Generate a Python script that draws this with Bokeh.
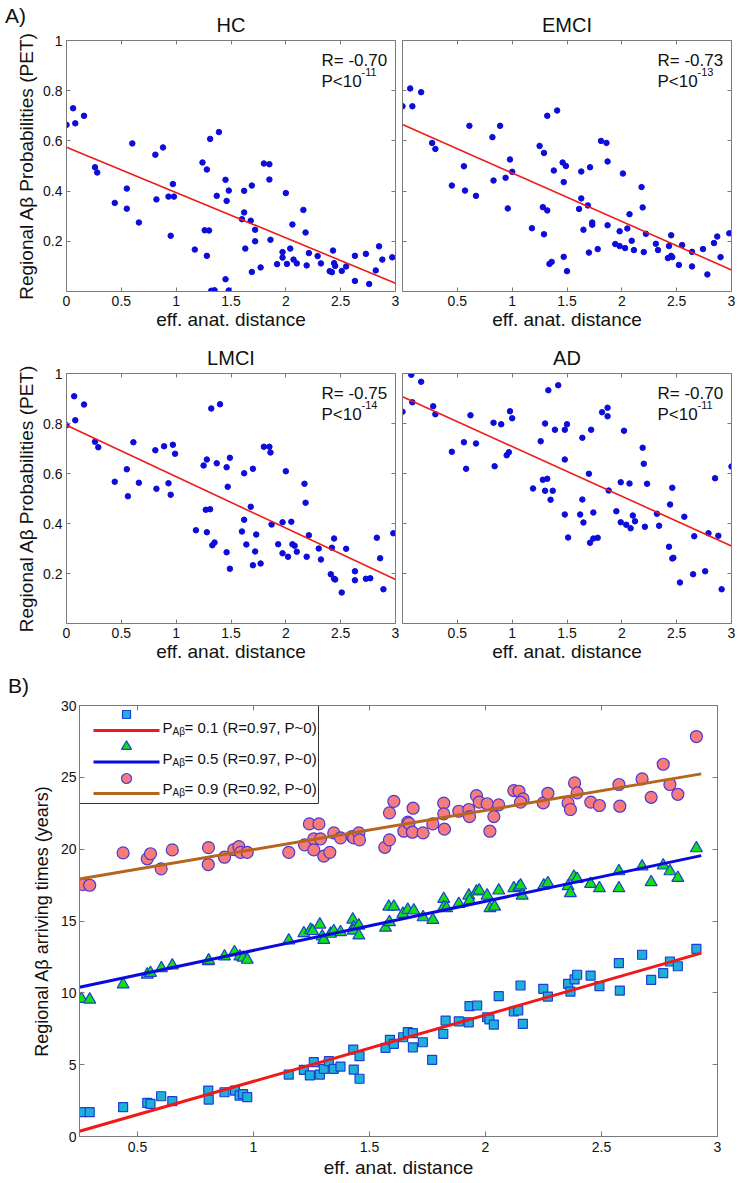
from bokeh.plotting import figure
from bokeh.models import Range1d, FixedTicker, LinearAxis, Label, Div
from bokeh.layouts import column, row
from bokeh.embed import file_html
from bokeh.resources import INLINE

FONT = "Liberation Sans"

# ---------------- Panel A data (eff. anat. distance, regional Abeta probability) ----
HC = [(0.00,0.664),(0.06,0.730),(0.08,0.670),(0.16,0.700),(0.26,0.495),(0.28,0.474),(0.44,0.353),
      (0.55,0.410),(0.55,0.330),(0.60,0.590),(0.66,0.275),(0.81,0.545),(0.82,0.367),(0.88,0.574),
      (0.93,0.378),(0.95,0.222),(0.97,0.428),(0.98,0.378),(1.17,0.167),(1.24,0.514),(1.26,0.244),
      (1.28,0.142),(1.28,0.486),(1.30,0.243),(1.31,0.608),(1.32,0.003),(1.35,0.005),(1.37,0.381),
      (1.39,0.635),(1.45,0.445),(1.46,0.361),(1.45,0.049),(1.48,0.004),(1.48,0.402),(1.60,0.288),
      (1.62,0.401),(1.62,0.315),(1.63,0.171),(1.68,0.282),(1.69,0.422),(1.69,0.078),(1.72,0.246),
      (1.72,0.200),(1.77,0.096),(1.80,0.510),(1.85,0.507),(1.85,0.446),(1.86,0.206),(1.92,0.109),
      (1.97,0.157),(1.97,0.135),(2.00,0.392),(2.01,0.110),(2.04,0.171),(2.06,0.267),(2.07,0.127),
      (2.10,0.112),(2.16,0.325),(2.18,0.235),(2.19,0.104),(2.21,0.153),(2.29,0.141),(2.32,0.112),
      (2.40,0.081),(2.42,0.077),(2.43,0.163),(2.44,0.113),(2.45,0.102),(2.51,0.082),(2.55,0.100),
      (2.63,0.142),(2.63,0.042),(2.73,0.150),(2.76,0.030),(2.82,0.084),(2.85,0.180),(2.88,0.127),
      (2.97,0.136)]
EMCI = [(0.00,0.738),(0.07,0.809),(0.09,0.738),(0.17,0.794),(0.27,0.592),(0.30,0.568),(0.45,0.422),
        (0.56,0.499),(0.57,0.402),(0.61,0.660),(0.67,0.381),(0.82,0.615),(0.83,0.442),(0.89,0.660),
        (0.94,0.453),(0.96,0.331),(0.98,0.526),(1.00,0.477),(1.18,0.252),(1.25,0.580),(1.28,0.336),
        (1.29,0.228),(1.29,0.552),(1.32,0.323),(1.32,0.700),(1.34,0.110),(1.36,0.118),(1.38,0.482),
        (1.41,0.721),(1.46,0.514),(1.47,0.436),(1.47,0.138),(1.49,0.500),(1.50,0.081),(1.61,0.329),
        (1.63,0.478),(1.63,0.371),(1.65,0.246),(1.69,0.343),(1.71,0.495),(1.70,0.155),(1.73,0.275),
        (1.73,0.266),(1.78,0.169),(1.81,0.600),(1.86,0.592),(1.87,0.518),(1.87,0.264),(1.94,0.189),
        (1.98,0.240),(1.98,0.181),(2.01,0.470),(2.03,0.173),(2.05,0.251),(2.07,0.308),(2.09,0.202),
        (2.11,0.165),(2.18,0.416),(2.19,0.335),(2.20,0.157),(2.22,0.230),(2.31,0.190),(2.33,0.165),
        (2.42,0.133),(2.43,0.181),(2.45,0.224),(2.45,0.142),(2.46,0.137),(2.52,0.106),(2.55,0.185),
        (2.64,0.158),(2.64,0.100),(2.74,0.169),(2.78,0.068),(2.84,0.193),(2.87,0.219),(2.90,0.137),
        (2.98,0.232)]
LMCI = [(0.00,0.793),(0.07,0.909),(0.08,0.813),(0.16,0.876),(0.26,0.727),(0.29,0.705),(0.44,0.567),
        (0.55,0.617),(0.56,0.509),(0.61,0.725),(0.66,0.563),(0.81,0.693),(0.82,0.539),(0.89,0.709),
        (0.93,0.561),(0.95,0.515),(0.97,0.715),(0.99,0.679),(1.18,0.373),(1.25,0.632),(1.27,0.455),
        (1.28,0.365),(1.28,0.656),(1.31,0.457),(1.32,0.860),(1.33,0.313),(1.35,0.324),(1.37,0.641),
        (1.40,0.877),(1.46,0.625),(1.47,0.547),(1.46,0.285),(1.49,0.219),(1.49,0.663),(1.60,0.368),
        (1.62,0.601),(1.62,0.415),(1.64,0.316),(1.68,0.467),(1.70,0.619),(1.70,0.233),(1.72,0.288),
        (1.73,0.356),(1.77,0.240),(1.80,0.707),(1.85,0.707),(1.86,0.684),(1.87,0.396),(1.93,0.317),
        (1.97,0.405),(1.97,0.281),(2.00,0.609),(2.02,0.267),(2.05,0.407),(2.06,0.317),(2.08,0.311),
        (2.10,0.287),(2.17,0.559),(2.18,0.483),(2.19,0.267),(2.21,0.353),(2.30,0.300),(2.32,0.256),
        (2.41,0.197),(2.42,0.303),(2.44,0.340),(2.44,0.179),(2.45,0.176),(2.51,0.124),(2.55,0.299),
        (2.63,0.209),(2.63,0.173),(2.73,0.179),(2.77,0.181),(2.83,0.343),(2.86,0.261),(2.89,0.137),
        (2.98,0.361)]
AD = [(0.00,0.847),(0.08,0.995),(0.09,0.885),(0.17,0.967),(0.28,0.869),(0.30,0.837),(0.45,0.687),
      (0.56,0.725),(0.58,0.619),(0.62,0.833),(0.67,0.720),(0.83,0.803),(0.84,0.629),(0.90,0.797),
      (0.95,0.673),(0.97,0.685),(0.98,0.849),(1.00,0.821),(1.19,0.540),(1.26,0.729),(1.28,0.575),
      (1.30,0.800),(1.30,0.531),(1.32,0.579),(1.33,0.933),(1.35,0.495),(1.37,0.531),(1.39,0.775),
      (1.42,0.953),(1.48,0.775),(1.48,0.656),(1.48,0.436),(1.50,0.797),(1.51,0.344),(1.62,0.436),
      (1.64,0.743),(1.64,0.496),(1.65,0.404),(1.70,0.599),(1.71,0.323),(1.72,0.775),(1.74,0.444),
      (1.74,0.340),(1.78,0.343),(1.82,0.845),(1.87,0.863),(1.87,0.829),(1.88,0.532),(1.95,0.449),
      (1.99,0.565),(1.99,0.405),(2.02,0.771),(2.04,0.395),(2.07,0.560),(2.08,0.381),(2.10,0.432),
      (2.12,0.409),(2.19,0.703),(2.20,0.639),(2.21,0.387),(2.23,0.559),(2.32,0.439),(2.34,0.391),
      (2.43,0.307),(2.44,0.476),(2.46,0.543),(2.46,0.260),(2.47,0.263),(2.53,0.164),(2.57,0.427),
      (2.65,0.197),(2.66,0.349),(2.76,0.209),(2.79,0.361),(2.85,0.581),(2.88,0.351),(2.91,0.137),
      (3.00,0.628)]

FIT_X = [0.0, 3.0]
HC_FIT = [0.575, 0.033]
EMCI_FIT = [0.665, 0.086]
LMCI_FIT = [0.793, 0.176]
AD_FIT = [0.907, 0.310]

A_TITLES = ["HC", "EMCI", "LMCI", "AD"]
A_R = ["-0.70", "-0.73", "-0.75", "-0.70"]
A_PEXP = ["-11", "-13", "-14", "-11"]

A_XTICKS = [0, 0.5, 1, 1.5, 2, 2.5, 3]
A_XLABELS = ["0", "0.5", "1", "1.5", "2", "2.5", "3"]
A_XTICKS_R = [0.5, 1, 1.5, 2, 2.5, 3]
A_XLABELS_R = ["0.5", "1", "1.5", "2", "2.5", "3"]
A_YTICKS = [0.2, 0.4, 0.6, 0.8, 1]
A_YLABELS = ["0.2", "0.4", "0.6", "0.8", "1"]

# ---------------- Panel B data (eff. anat. distance, arriving time in years) -------
SQ = [(0.262,1.69),(0.294,1.69),(0.438,2.04),(0.542,2.34),(0.556,2.27),(0.602,2.80),(0.650,2.46),
      (0.805,3.20),(0.807,2.57),(0.875,3.08),(0.920,3.20),(0.940,2.85),(0.955,2.95),(0.973,2.74),
      (1.152,4.31),(1.217,4.64),(1.243,4.25),(1.260,5.17),(1.286,4.31),(1.303,4.71),(1.325,5.24),
      (1.346,4.71),(1.375,4.87),(1.430,6.05),(1.432,4.66),(1.457,5.59),(1.457,4.02),(1.569,6.17),
      (1.588,6.73),(1.605,6.45),(1.645,6.91),(1.665,7.26),(1.687,7.19),(1.687,6.21),(1.730,6.56),
      (1.770,5.34),(1.818,7.15),(1.828,8.07),(1.885,8.02),(1.928,7.95),(1.931,9.07),(1.964,9.12),
      (2.007,8.30),(2.017,8.15),(2.036,7.79),(2.057,9.77),(2.122,8.70),(2.141,8.77),(2.151,10.51),
      (2.161,7.84),(2.249,10.28),(2.269,9.74),(2.356,10.63),(2.366,10.09),(2.384,10.93),(2.395,11.26),
      (2.453,11.20),(2.491,10.46),(2.575,12.07),(2.579,10.16),(2.675,12.65),(2.714,10.90),
      (2.766,11.37),(2.795,12.18),(2.829,11.85),(2.909,13.06)]
TRI = [(0.259,9.58),(0.294,9.53),(0.438,10.58),(0.542,11.27),(0.556,11.39),(0.603,11.71),(0.650,11.90),
       (0.805,12.20),(0.807,12.25),(0.875,12.53),(0.918,12.83),(0.941,12.53),(0.955,12.45),(0.973,12.30),
       (1.152,13.64),(1.217,14.15),(1.246,14.39),(1.255,14.30),(1.286,14.75),(1.296,13.92),(1.303,13.69),
       (1.332,14.11),(1.346,14.29),(1.375,14.22),(1.428,15.10),(1.432,14.57),(1.430,14.33),(1.454,14.68),
       (1.454,13.99),(1.569,14.53),(1.586,14.92),(1.583,16.00),(1.605,16.00),(1.644,15.50),(1.665,15.78),
       (1.691,15.73),(1.731,15.26),(1.773,15.08),(1.820,16.54),(1.820,15.96),(1.832,15.89),(1.885,16.19),
       (1.928,16.77),(1.932,16.42),(1.961,17.05),(1.973,17.12),(2.007,16.77),(2.019,15.89),(2.039,16.00),
       (2.057,17.12),(2.122,17.28),(2.144,17.35),(2.151,17.47),(2.158,16.77),(2.251,17.47),(2.269,17.63),
       (2.356,17.42),(2.366,16.94),(2.381,18.09),(2.395,17.93),(2.453,17.58),(2.491,17.28),(2.575,18.46),
       (2.575,17.28),(2.675,18.79),(2.714,17.70),(2.766,18.86),(2.795,18.46),(2.829,18.00),(2.909,20.06)]
CIR = [(0.264,17.54),(0.294,17.49),(0.438,19.74),(0.542,19.33),(0.556,19.68),(0.602,18.63),(0.650,19.95),
       (0.806,20.11),(0.805,18.93),(0.875,19.44),(0.915,19.97),(0.937,20.18),(0.944,19.78),(0.973,19.78),
       (1.152,19.78),(1.220,20.30),(1.241,21.76),(1.282,21.76),(1.260,20.72),(1.260,19.95),(1.289,20.72),
       (1.303,19.51),(1.329,19.78),(1.346,21.13),(1.375,20.79),(1.425,20.88),(1.432,20.79),(1.454,21.13),
       (1.457,20.65),(1.566,20.13),(1.586,20.65),(1.586,22.53),(1.605,23.33),(1.648,21.25),(1.665,21.88),
       (1.670,21.80),(1.685,21.18),(1.688,22.85),(1.731,21.13),(1.773,21.76),(1.820,23.20),(1.820,22.46),
       (1.823,21.39),(1.885,22.64),(1.928,22.76),(1.931,22.27),(1.961,23.73),(1.973,23.27),(2.007,23.16),
       (2.019,21.25),(2.036,22.27),(2.057,23.08),(2.122,24.08),(2.144,24.03),(2.162,23.50),(2.151,23.27),
       (2.249,23.22),(2.269,23.89),(2.356,23.22),(2.366,22.76),(2.384,24.61),(2.395,23.92),(2.454,23.27),
       (2.491,23.04),(2.575,24.50),(2.579,22.99),(2.675,24.89),(2.714,23.61),(2.766,25.91),(2.795,24.50),
       (2.829,23.82),(2.909,27.84)]

B_FIT_X = [0.25, 2.93]
SQ_FIT = [0.37, 12.76]
TRI_FIT = [10.39, 19.55]
CIR_FIT = [17.93, 25.24]

B_LEG_P = ["0.1", "0.5", "0.9"]
B_LEG_R = ["0.97", "0.97", "0.92"]

B_XTICKS = [0.5, 1, 1.5, 2, 2.5, 3]
B_XLABELS = ["0.5", "1", "1.5", "2", "2.5", "3"]
B_YTICKS = [0, 5, 10, 15, 20, 25, 30]
B_YLABELS = ["0", "5", "10", "15", "20", "25", "30"]

# ---------------- styling ----------------
AX_COLOR = "#7a7a7a"
TXT = "#111111"
DOT = "#0c0cdc"
RED = "#ee1b1b"


def style_axis(ax, ticks, labels, size="14px", show=True, tick_in=4, standoff=4):
    ax.ticker = FixedTicker(ticks=ticks)
    ax.axis_line_color = AX_COLOR
    ax.major_tick_line_color = AX_COLOR
    ax.major_tick_in = tick_in
    ax.major_tick_out = 0
    ax.minor_tick_line_color = None
    ax.axis_label_text_font = FONT
    ax.axis_label_text_font_style = "normal"
    ax.axis_label_text_color = TXT
    if show:
        ax.major_label_overrides = {t: l for t, l in zip(ticks, labels)}
        ax.major_label_text_font = FONT
        ax.major_label_text_color = TXT
        ax.major_label_text_font_size = size
        ax.major_label_standoff = standoff
    else:
        # tick marks only (box ticks as on every side of the original axes)
        ax.major_label_text_color = None
        ax.major_label_text_font_size = "0px"
        ax.major_label_standoff = 0


def panel_a(idx, pts, fit_y, is_left, top_row):
    width = 399 if is_left else 340
    height = 332 if top_row else 333
    mbl, mbr = (66, 4) if is_left else (3, 8)
    mbt, mbb = (40, 41) if top_row else (41, 42)
    p = figure(width=width, height=height, x_range=Range1d(0, 3), y_range=Range1d(0, 1),
               output_backend="svg", toolbar_location=None,
               min_border_left=mbl, min_border_right=mbr,
               min_border_top=mbt, min_border_bottom=mbb)
    p.grid.visible = False
    p.outline_line_color = None
    p.border_fill_alpha = 0
    p.title.text = A_TITLES[idx]
    p.title.align = "center"
    p.title.text_font = FONT
    p.title.text_font_size = "20px"
    p.title.text_font_style = "normal"
    p.title.text_color = TXT
    p.title.standoff = 9

    xs = [a for a, b in pts]
    ys = [b for a, b in pts]
    p.scatter(xs, ys, marker="circle", size=5.5, fill_color=DOT, line_color=DOT)
    p.line(FIT_X, fit_y, line_color=RED, line_width=1.6)

    xt, xl = (A_XTICKS, A_XLABELS) if is_left else (A_XTICKS_R, A_XLABELS_R)
    style_axis(p.xaxis[0], xt, xl)
    p.xaxis[0].axis_label = "eff. anat. distance"
    p.xaxis[0].axis_label_text_font_size = "19px"
    p.xaxis[0].axis_label_standoff = 0
    style_axis(p.yaxis[0], A_YTICKS, A_YLABELS, show=is_left)
    if is_left:
        p.yaxis[0].axis_label = "Regional A\u03b2 Probabilities (PET)"
        p.yaxis[0].axis_label_text_font_size = "19px"
        p.yaxis[0].axis_label_standoff = 3

    top = LinearAxis()
    style_axis(top, A_XTICKS, A_XLABELS, show=False)
    p.add_layout(top, "above")
    right = LinearAxis()
    style_axis(right, A_YTICKS, A_YLABELS, show=False)
    p.add_layout(right, "right")

    p.add_layout(Label(x=3, y=1, x_offset=-74, y_offset=-20, text="R= " + A_R[idx],
                       text_font=FONT, text_font_size="17px", text_color=TXT,
                       text_align="left", text_baseline="alphabetic"))
    p.add_layout(Label(x=3, y=1, x_offset=-74, y_offset=-41, text="P<10",
                       text_font=FONT, text_font_size="17px", text_color=TXT,
                       text_align="left", text_baseline="alphabetic"))
    p.add_layout(Label(x=3, y=1, x_offset=-34, y_offset=-31, text=A_PEXP[idx],
                       text_font=FONT, text_font_size="11px", text_color=TXT,
                       text_align="left", text_baseline="alphabetic"))
    return p


p_hc = panel_a(0, HC, HC_FIT, True, True)
p_emci = panel_a(1, EMCI, EMCI_FIT, False, True)
p_lmci = panel_a(2, LMCI, LMCI_FIT, True, False)
p_ad = panel_a(3, AD, AD_FIT, False, False)

# ---------------- Panel B ----------------
B_XMIN, B_XMAX, B_YMIN, B_YMAX = 0.25, 3.0, 0.0, 30.0
B_W, B_H = 739, 516
B_ML, B_MR, B_MT, B_MB = 79, 22, 40, 45
FRAME_W = B_W - B_ML - B_MR
FRAME_H = B_H - B_MT - B_MB

pb = figure(width=B_W, height=B_H, x_range=Range1d(B_XMIN, B_XMAX), y_range=Range1d(B_YMIN, B_YMAX),
            output_backend="svg", toolbar_location=None,
            min_border_left=B_ML, min_border_right=B_MR, min_border_top=B_MT, min_border_bottom=B_MB)
pb.grid.visible = False
pb.outline_line_color = None
pb.border_fill_alpha = 0


def bx(px):
    # pixel offset from the frame's left edge -> data x
    return B_XMIN + px * (B_XMAX - B_XMIN) / FRAME_W


def by(py):
    # pixel offset below the frame's top edge -> data y
    return B_YMAX - py * (B_YMAX - B_YMIN) / FRAME_H


SQ_FILL, SQ_LINE = "#1fb0d8", "#1c3fd6"
TRI_FILL, TRI_LINE = "#10e010", "#1c3fd6"
CIR_FILL, CIR_LINE = "#f77b7b", "#4a3ad6"
RED_B, BLUE_B, BROWN_B = "#f01818", "#0a0ae0", "#b5651d"

STYLES = [dict(marker="square", size=9, fill_color=SQ_FILL, line_color=SQ_LINE),
          dict(marker="triangle", size=12, fill_color=TRI_FILL, line_color=TRI_LINE),
          dict(marker="circle", size=12, fill_color=CIR_FILL, line_color=CIR_LINE)]
LINE_COLORS = [RED_B, BLUE_B, BROWN_B]

for pts, st in zip((SQ, TRI, CIR), STYLES):
    pb.scatter([a for a, b in pts], [b for a, b in pts], line_width=1.2, **st)
for fy, c in zip((SQ_FIT, TRI_FIT, CIR_FIT), LINE_COLORS):
    pb.line(B_FIT_X, fy, line_color=c, line_width=3)

style_axis(pb.xaxis[0], B_XTICKS, B_XLABELS, tick_in=5, standoff=5)
pb.xaxis[0].axis_label = "eff. anat. distance"
pb.xaxis[0].axis_label_text_font_size = "19px"
pb.xaxis[0].axis_label_standoff = 2
style_axis(pb.yaxis[0], B_YTICKS, B_YLABELS, tick_in=5, standoff=3)
pb.yaxis[0].axis_label = "Regional A\u03b2 arriving times (years)"
pb.yaxis[0].axis_label_text_font_size = "18px"
pb.yaxis[0].axis_label_standoff = 6
tb = LinearAxis()
style_axis(tb, B_XTICKS, B_XLABELS, show=False, tick_in=5)
pb.add_layout(tb, "above")
rb = LinearAxis()
style_axis(rb, B_YTICKS, B_YLABELS, show=False, tick_in=5)
pb.add_layout(rb, "right")

# legend: box, key markers above key lines, and texts (layout in frame pixels)
pb.quad(left=[bx(0)], right=[bx(239)], top=[by(0)], bottom=[by(98)],
        fill_color="white", line_color="#333333", line_width=1)
for i, (st, c, pv, rv) in enumerate(zip(STYLES, LINE_COLORS, B_LEG_P, B_LEG_R)):
    mk = dict(st)
    mk["size"] = 8 if st["marker"] == "square" else 10
    pb.scatter([bx(47)], [by(9 + 32 * i)], line_width=1.2, **mk)
    ly = by(25 + 31.5 * i)
    pb.line([bx(14), bx(80)], [ly, ly], line_color=c, line_width=3)
    dy = -22 - 30.5 * i
    pb.add_layout(Label(x=B_XMIN, y=B_YMAX, x_offset=83, y_offset=dy, text="P",
                        text_font=FONT, text_font_size="15px", text_color=TXT,
                        text_baseline="alphabetic"))
    pb.add_layout(Label(x=B_XMIN, y=B_YMAX, x_offset=93, y_offset=dy - 4, text="A\u03b2",
                        text_font=FONT, text_font_size="10px", text_color=TXT,
                        text_baseline="alphabetic"))
    pb.add_layout(Label(x=B_XMIN, y=B_YMAX, x_offset=105, y_offset=dy,
                        text="= %s (R=%s, P~0)" % (pv, rv),
                        text_font=FONT, text_font_size="15px", text_color=TXT,
                        text_baseline="alphabetic"))

# panel letters (outside any frame -> small overlapping text boxes)
DIV_STYLE = {"font-family": FONT, "font-size": "21px", "color": TXT, "line-height": "24px",
             "position": "relative", "z-index": "5"}
div_a = Div(text="A)", width=40, height=30, margin=(0, 0, -30, 0),
            styles=dict(DIV_STYLE, **{"padding-left": "5px", "padding-top": "4px"}))
div_b = Div(text="B)", width=40, height=36, margin=(0, 0, -36, 0),
            styles=dict(DIV_STYLE, **{"padding-left": "8px", "padding-top": "9px"}))

layout = column(div_a, row(p_hc, p_emci), row(p_lmci, p_ad), div_b, pb)
open("out.html", "w").write(file_html(layout, INLINE))
